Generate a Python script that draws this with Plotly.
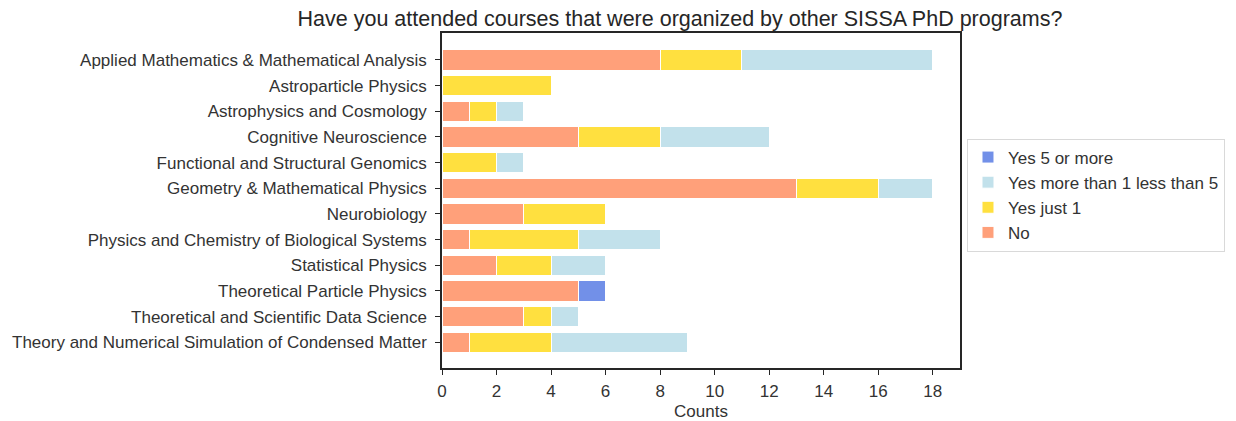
import plotly.graph_objects as go

categories = [
    "Applied Mathematics & Mathematical Analysis",
    "Astroparticle Physics",
    "Astrophysics and Cosmology",
    "Cognitive Neuroscience",
    "Functional and Structural Genomics",
    "Geometry & Mathematical Physics",
    "Neurobiology",
    "Physics and Chemistry of Biological Systems",
    "Statistical Physics",
    "Theoretical Particle Physics",
    "Theoretical and Scientific Data Science",
    "Theory and Numerical Simulation of Condensed Matter",
]
no = [8, 0, 1, 5, 0, 13, 3, 1, 2, 5, 3, 1]
yes_just_1 = [3, 4, 1, 3, 2, 3, 3, 4, 2, 0, 1, 3]
yes_more_1_less_5 = [7, 0, 1, 4, 1, 2, 0, 3, 2, 0, 1, 5]
yes_5_or_more = [0, 0, 0, 0, 0, 0, 0, 0, 0, 1, 0, 0]

series = [
    ("No", no, "#FFA07A"),
    ("Yes just 1", yes_just_1, "#FFE03F"),
    ("Yes more than 1 less than 5", yes_more_1_less_5, "#C2E1EB"),
    ("Yes 5 or more", yes_5_or_more, "#7290E8"),
]

fig = go.Figure()
for name, vals, color in series:
    fig.add_trace(go.Bar(
        x=vals, y=categories, orientation="h", name=name,
        marker=dict(color=color, line=dict(color="white", width=1)),
    ))

FAM = "Liberation Sans, Arial, sans-serif"
axis_font = dict(family=FAM, size=17, color="#333333")
W, H = 1228, 413
fig.update_layout(
    barmode="stack",
    bargap=0.2,
    width=W, height=H,
    margin=dict(l=434, r=276, t=25, b=53, autoexpand=False),
    paper_bgcolor="white", plot_bgcolor="white",
    font=axis_font,
    title=dict(
        text="Have you attended courses that were organized by other SISSA PhD programs?",
        x=672 / W, xanchor="center", y=1 - 10 / H, yanchor="middle",
        font=dict(family=FAM, size=21.5, color="#262626"),
    ),
    legend=dict(
        traceorder="reversed",
        x=1.0135, xanchor="left", y=0.685, yanchor="top",
        bordercolor="#d9d9d9", borderwidth=1, bgcolor="white",
        font=dict(family=FAM, size=17, color="#333333"),
        tracegroupgap=0, itemwidth=30,
    ),
    xaxis=dict(
        range=[0, 19], tickvals=list(range(0, 19, 2)),
        showgrid=False, zeroline=False,
        showline=True, linecolor="#262626", linewidth=1.5, mirror=True,
        ticks="outside", ticklen=5, tickcolor="#262626", tickwidth=1.2,
        ticklabelstandoff=2,
        title=dict(text="Counts", font=axis_font, standoff=8),
        tickfont=axis_font,
    ),
    yaxis=dict(
        type="category", categoryorder="array", categoryarray=categories,
        range=[12.0, -1.05],
        showgrid=False, zeroline=False,
        showline=True, linecolor="#262626", linewidth=1.5, mirror=True,
        ticks="outside", ticklen=5, tickcolor="#262626", tickwidth=1.2,
        ticklabelstandoff=5,
        tickfont=axis_font,
    ),
)

fig.write_html("out.html")
